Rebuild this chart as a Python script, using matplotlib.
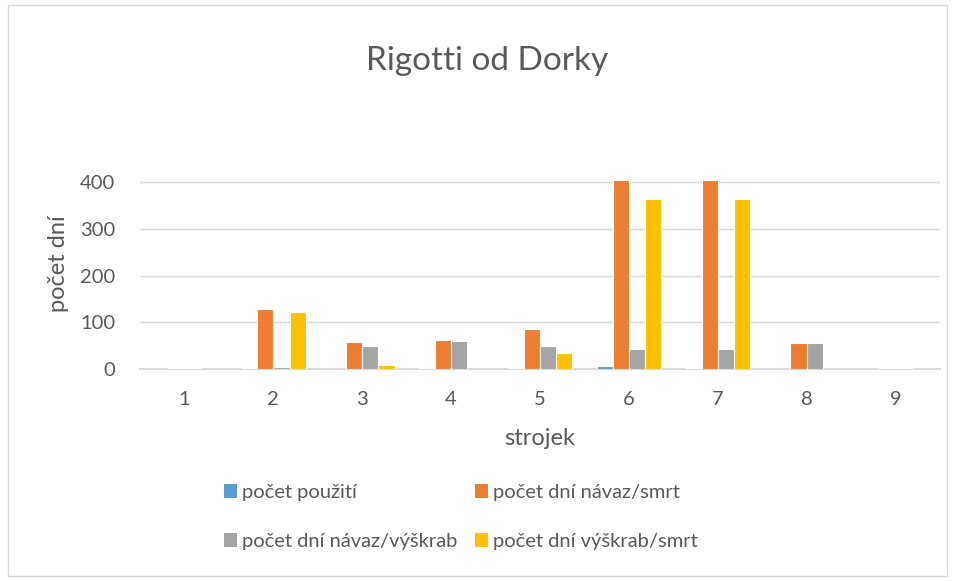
import numpy as np
import matplotlib.pyplot as plt
from matplotlib.patches import Patch, Rectangle

# Data
strojek = ['1', '2', '3', '4', '5', '6', '7', '8', '9']
pocet_pouziti = [1, 2, 1, 2, 2, 6, 3, 1, 0]
dni_navaz_smrt = [2, 128, 58, 63, 85, 405, 405, 55, 2]
dni_navaz_vyskrab = [2, 5, 49, 59, 49, 43, 43, 55, 2]
dni_vyskrab_smrt = [0, 122, 8, 1, 34, 364, 364, 0, 0]

serie = [
    ('počet použití', pocet_pouziti, '#5B9BD5'),
    ('počet dní návaz/smrt', dni_navaz_smrt, '#ED7D31'),
    ('počet dní návaz/výškrab', dni_navaz_vyskrab, '#A5A5A5'),
    ('počet dní výškrab/smrt', dni_vyskrab_smrt, '#FFC000'),
]

plt.rcParams['font.family'] = ['Lato', 'DejaVu Sans']
text_col = '#595959'

fig = plt.figure(figsize=(9.55, 5.81), dpi=100)
fig.patches.append(Rectangle((0.008, 0.008), 0.984, 0.984, transform=fig.transFigure,
                             fill=False, edgecolor='#D9D9D9', linewidth=1))
ax = fig.add_axes([0.1466, 0.3649, 0.8377, 0.3614])

x = np.arange(len(strojek))
w = 0.182
handles = []
for i, (name, vals, col) in enumerate(serie):
    ax.bar(x + (i - 1.5) * w, vals, w, color=col, edgecolor='white', linewidth=0.8, zorder=3)
    handles.append(Patch(facecolor=col, label=name))

ax.set_xlim(-0.5, len(strojek) - 0.5)
ax.set_ylim(0, 450)
ax.set_yticks([0, 100, 200, 300, 400])
ax.set_xticks(x)
ax.set_xticklabels(strojek)
ax.grid(axis='y', color='#D9D9D9', linewidth=1, zorder=0)
for s in ['top', 'right', 'left']:
    ax.spines[s].set_visible(False)
ax.spines['bottom'].set_color('#D9D9D9')
ax.spines['bottom'].set_linewidth(1.5)
ax.tick_params(length=0, labelsize=14.5, colors=text_col)
ax.tick_params(axis='y', pad=18)
ax.tick_params(axis='x', pad=16)

ax.set_xlabel('strojek', fontsize=17, color=text_col, labelpad=14)
ax.set_ylabel('počet dní', fontsize=17, color=text_col, labelpad=8)
fig.text(0.510, 0.895, 'Rigotti od Dorky', ha='center', va='center', fontsize=24, color=text_col)

# legend is filled row by row in the reference
poradi = [handles[0], handles[2], handles[1], handles[3]]
leg = fig.legend(handles=poradi, ncol=2, loc='upper left', bbox_to_anchor=(0.2346, 0.167),
                 frameon=False, fontsize=14.5, handlelength=0.65, handleheight=0.65,
                 handletextpad=0.25, labelspacing=1.6, columnspacing=0.85,
                 borderaxespad=0, borderpad=0)
for t in leg.get_texts():
    t.set_color(text_col)

fig.savefig('out.png', dpi=100)
